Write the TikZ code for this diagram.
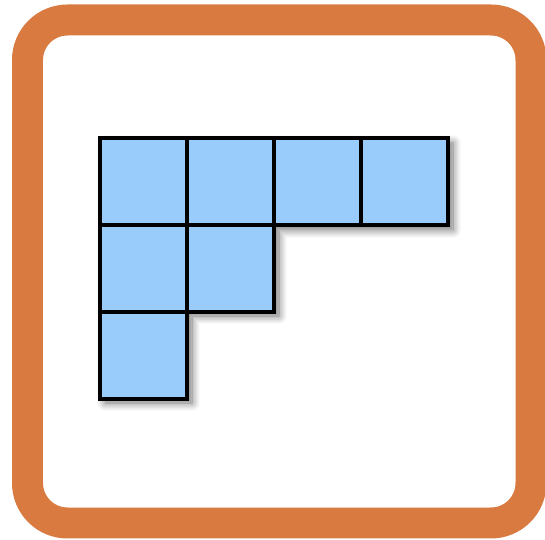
\documentclass[tikz,border=0pt]{standalone}
\usepackage{tikz}
\usetikzlibrary{shadows.blur}

\definecolor{framecol}{RGB}{217,123,64}
\definecolor{cellcol}{RGB}{153,204,250}

\begin{document}
\begin{tikzpicture}[
			x=0.02cm,
			y=-0.02cm,
			cell/.style={
					draw=black,
					line width=0.065cm,
					fill=cellcol,
					shape=rectangle,
					minimum size=1.74cm,
					inner sep=0pt
				}
		]
		\useasboundingbox (0,0) rectangle (545,540);

		% frame
		\draw[framecol, line width=0.62cm, rounded corners=0.8cm]
		(27.5,20) rectangle (531,523);

		% shadow under the diagram
		\path[fill=cellcol, blur shadow={shadow xshift=0.1cm, shadow yshift=-0.1cm,
				shadow blur radius=0.16cm, shadow opacity=55, shadow blur steps=10}]
		(100,138) -- (448,138) -- (448,225) -- (274,225) --
		(274,311) -- (187,311) -- (187,398) -- (100,398) -- cycle;

		% first row
		\node[cell] (c11) at (143.5,181.5) {};
		\node[cell] (c12) at (230.5,181.5) {};
		\node[cell] (c13) at (317.5,181.5) {};
		\node[cell] (c14) at (404.5,181.5) {};
		% second row
		\node[cell] (c21) at (143.5,268.5) {};
		\node[cell] (c22) at (230.5,268.5) {};
		% third row
		\node[cell] (c31) at (143.5,355.5) {};

	\end{tikzpicture}
\end{document}
